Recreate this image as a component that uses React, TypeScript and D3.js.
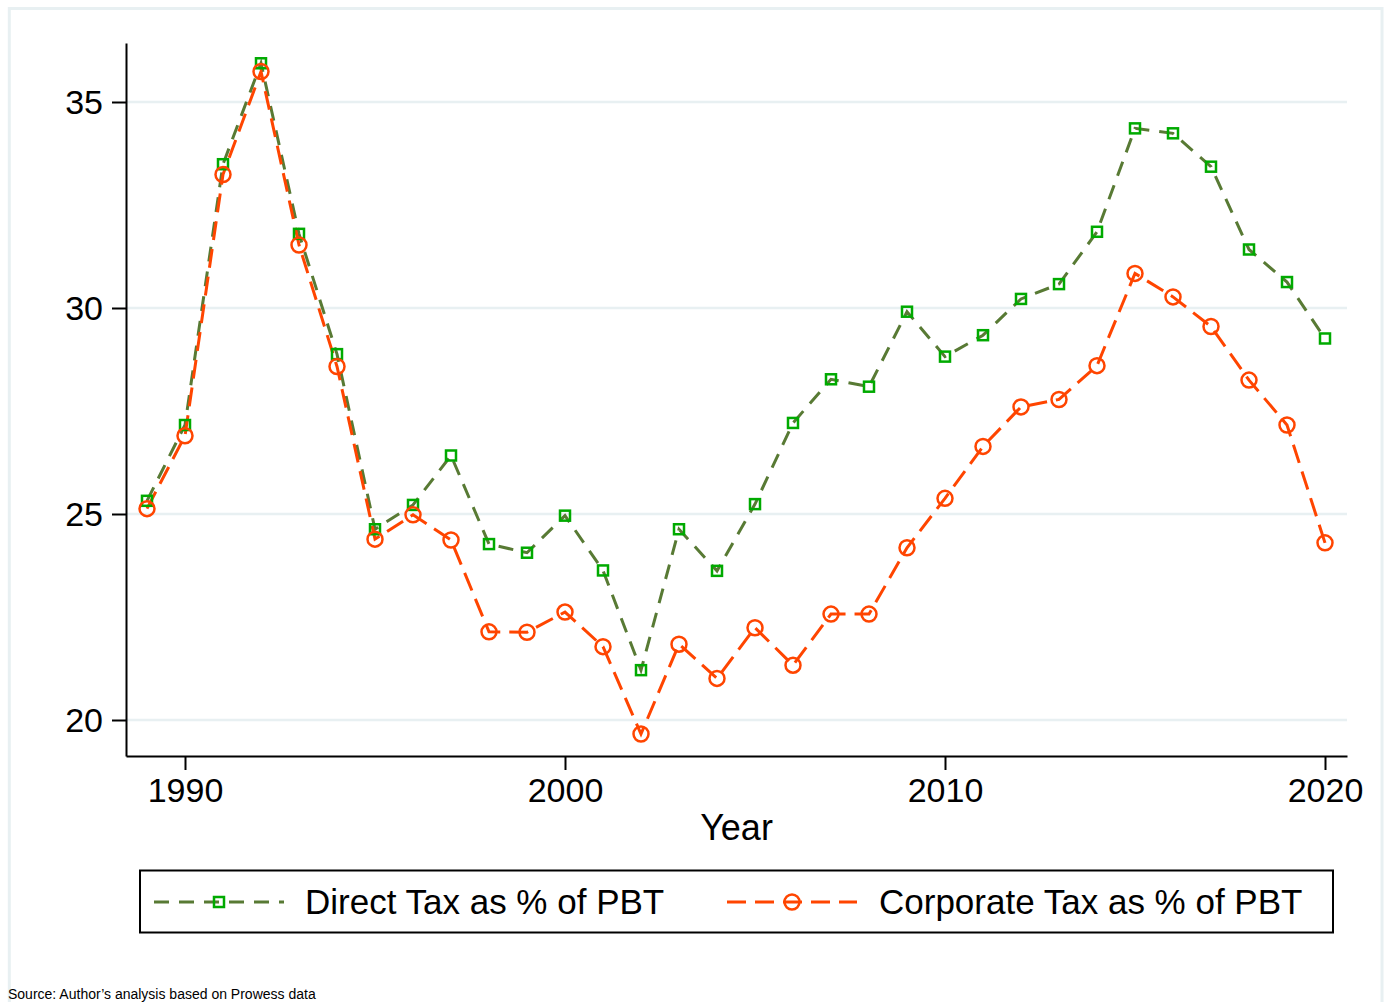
import React, { useEffect, useRef } from "react";
import * as d3 from "d3";

const years = [1989, 1990, 1991, 1992, 1993, 1994, 1995, 1996, 1997, 1998, 1999, 2000, 2001, 2002, 2003, 2004, 2005, 2006, 2007, 2008, 2009, 2010, 2011, 2012, 2013, 2014, 2015, 2016, 2017, 2018, 2019, 2020];
const directTax = [25.32, 27.16, 33.49, 35.94, 31.8, 28.88, 24.63, 25.22, 26.42, 24.27, 24.06, 24.96, 23.63, 21.21, 24.63, 23.62, 25.24, 27.21, 28.27, 28.09, 29.91, 28.82, 29.34, 30.22, 30.58, 31.85, 34.36, 34.24, 33.43, 31.42, 30.63, 29.26];
const corporateTax = [25.13, 26.9, 33.24, 35.74, 31.53, 28.58, 24.39, 24.98, 24.37, 22.14, 22.13, 22.62, 21.78, 19.66, 21.84, 21.01, 22.24, 21.33, 22.57, 22.57, 24.18, 25.38, 26.64, 27.6, 27.78, 28.6, 30.84, 30.27, 29.55, 28.25, 27.16, 24.3];
const yTicks = [20, 25, 30, 35];
const xTicks = [1990, 2000, 2010, 2020];
const seriesLabels = ["Direct Tax as % of PBT", "Corporate Tax as % of PBT"];
const xTitle = "Year";
const sourceNote = "Source: Author\u2019s analysis based on Prowess data";

const W = 1388;
const H = 1002;
const PL = 126, PR = 1347, PT = 43, PB = 756;
const FONT = "'Liberation Sans', Arial, Helvetica, sans-serif";
const GREEN_LINE = "#587a34";
const GREEN_MARK = "#00aa00";
const ORANGE = "#ff4500";
const GRID = "#e8f0f2";

export default function App() {
  const xAxisRef = useRef<SVGGElement>(null);
  const yAxisRef = useRef<SVGGElement>(null);

  const x = d3.scaleLinear().domain([1990 - 59 / 38, 1990 + 1162 / 38]).range([PL, PR]);
  const y = d3.scaleLinear().domain([20 - 36 / 41.2, 20 + 677 / 41.2]).range([PB, PT]);

  useEffect(() => {
    if (xAxisRef.current) {
      const g = d3.select(xAxisRef.current);
      g.selectAll("*").remove();
      g.call(
        d3.axisBottom(x).tickValues(xTicks).tickFormat(d3.format("d")).tickSize(14).tickSizeOuter(0).tickPadding(8)
      );
      g.select(".domain").attr("stroke", "#000").attr("stroke-width", 2);
      g.selectAll(".tick line").attr("stroke", "#000").attr("stroke-width", 2);
      g.selectAll(".tick text").attr("font-size", 34).attr("font-family", FONT).attr("fill", "#000");
    }
    if (yAxisRef.current) {
      const g = d3.select(yAxisRef.current);
      g.selectAll("*").remove();
      g.call(d3.axisLeft(y).tickValues(yTicks).tickSize(14).tickSizeOuter(0).tickPadding(9));
      g.select(".domain").attr("stroke", "#000").attr("stroke-width", 2);
      g.selectAll(".tick line").attr("stroke", "#000").attr("stroke-width", 2);
      g.selectAll(".tick text").attr("font-size", 34).attr("font-family", FONT).attr("fill", "#000").attr("dy", "0.35em");
    }
  });

  const line = d3
    .line<number>()
    .x((_, i) => x(years[i]))
    .y((d) => y(d));

  const sq = 10;
  const cr = 7.5;

  return (
    <svg
      width={W}
      height={H}
      style={{ position: "absolute", left: 0, top: 0, background: "#fff" }}
      fontFamily={FONT}
    >
      <rect x={9.3} y={8.5} width={1372.7} height={1010} fill="#fff" stroke={GRID} strokeWidth={3} />
      {yTicks.map((t) => (
        <line key={t} x1={PL + 1} x2={PR} y1={y(t)} y2={y(t)} stroke={GRID} strokeWidth={2.5} />
      ))}
      <path d={line(directTax) || ""} fill="none" stroke={GREEN_LINE} strokeWidth={3} strokeDasharray="15,10" />
      <path d={line(corporateTax) || ""} fill="none" stroke={ORANGE} strokeWidth={3} strokeDasharray="19,9" />
      {directTax.map((v, i) => (
        <rect
          key={"d" + i}
          x={x(years[i]) - sq / 2}
          y={y(v) - sq / 2}
          width={sq}
          height={sq}
          fill="none"
          stroke={GREEN_MARK}
          strokeWidth={2.5}
        />
      ))}
      {corporateTax.map((v, i) => (
        <circle key={"c" + i} cx={x(years[i])} cy={y(v)} r={cr} fill="none" stroke={ORANGE} strokeWidth={2.5} />
      ))}
      <g ref={xAxisRef} transform={`translate(0,${PB})`} />
      <g ref={yAxisRef} transform={`translate(${PL},0)`} />
      <text x={(PL + PR) / 2} y={840} textAnchor="middle" fontSize={36} fill="#000">
        {xTitle}
      </text>
      {/* legend */}
      <rect x={140} y={870.5} width={1193} height={62} fill="#fff" stroke="#000" strokeWidth={2} />
      <line x1={154} x2={284} y1={902} y2={902} stroke={GREEN_LINE} strokeWidth={3} strokeDasharray="15,10" />
      <rect x={219 - sq / 2} y={902 - sq / 2} width={sq} height={sq} fill="none" stroke={GREEN_MARK} strokeWidth={2.5} />
      <text x={305} y={914} fontSize={35} fill="#000">
        {seriesLabels[0]}
      </text>
      <line x1={727} x2={857} y1={902} y2={902} stroke={ORANGE} strokeWidth={3} strokeDasharray="19,9" />
      <circle cx={792} cy={902} r={cr} fill="none" stroke={ORANGE} strokeWidth={2.5} />
      <text x={879} y={914} fontSize={35} fill="#000">
        {seriesLabels[1]}
      </text>
      <text x={8} y={998.5} fontSize={14} fill="#000">
        {sourceNote}
      </text>
    </svg>
  );
}
